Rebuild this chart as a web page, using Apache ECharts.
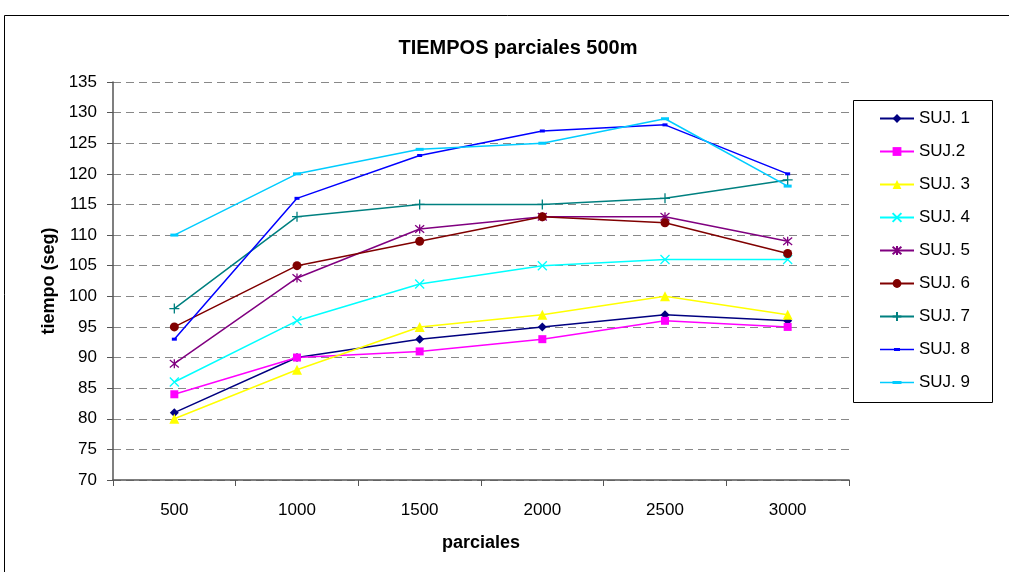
<!DOCTYPE html>
<html>
<head>
<meta charset="utf-8">
<script src="https://cdn.jsdelivr.net/npm/echarts@6/dist/echarts.min.js"></script>
<style>html,body{margin:0;padding:0;background:#fff}#c{width:1009px;height:572px}</style>
</head>
<body>
<div id="c"></div>
<script>
var categories = ['500', '1000', '1500', '2000', '2500', '3000'];
var seriesNames = ['SUJ. 1', 'SUJ.2', 'SUJ. 3', 'SUJ. 4', 'SUJ. 5', 'SUJ. 6', 'SUJ. 7', 'SUJ. 8', 'SUJ. 9'];
var suj1 = [81, 90, 93, 95, 97, 96];
var suj2 = [84, 90, 91, 93, 96, 95];
var suj3 = [80, 88, 95, 97, 100, 97];
var suj4 = [86, 96, 102, 105, 106, 106];
var suj5 = [89, 103, 111, 113, 113, 109];
var suj6 = [95, 105, 109, 113, 112, 107];
var suj7 = [98, 113, 115, 115, 116, 119];
var suj8 = [93, 116, 123, 127, 128, 120];
var suj9 = [110, 120, 124, 125, 129, 118];
var allData = [suj1, suj2, suj3, suj4, suj5, suj6, suj7, suj8, suj9];

var colors = ['#000080', '#FF00FF', '#FFFF00', '#00FFFF', '#800080', '#800000', '#008080', '#0000FF', '#00CCFF'];
var symbols = [
  'diamond', 'rect', 'triangle',
  'path://M0,0L10,10M10,0L0,10',
  'path://M0,0L10,10M10,0L0,10M5,-1L5,11',
  'circle',
  'path://M5,0L5,10M0,5L10,5',
  'path://M0,0L5,0L5,3L0,3Z',
  'path://M0,0L8,0L8,3L0,3Z'
];
var sizes = [9, 8, 10, 9, 9, 9, 10, 5, 8];
var keepAspect = [false, false, false, false, false, false, false, true, true];
var legendIcons = {
  'SUJ. 8': 'path://M0,0M34,11M0,4.8L34,4.8L34,6.2L0,6.2ZM14,4L20,4L20,7L14,7Z',
  'SUJ. 9': 'path://M0,0M34,11M0,4.8L34,4.8L34,6.2L0,6.2ZM12.5,4L21.5,4L21.5,7L12.5,7Z'
};

var series = allData.map(function (d, i) {
  return {
    name: seriesNames[i],
    type: 'line',
    data: d,
    symbol: symbols[i],
    symbolSize: sizes[i],
    symbolKeepAspect: keepAspect[i],
    showAllSymbol: true,
    lineStyle: { color: colors[i], width: 1.5 },
    itemStyle: { color: colors[i], borderColor: colors[i], borderWidth: (i === 3 || i === 4 || i === 6) ? 1.3 : 0 },
    emphasis: { disabled: true },
    animation: false
  };
});

var legendData = seriesNames.map(function (n) {
  return legendIcons[n] ? { name: n, icon: legendIcons[n] } : { name: n };
});

var FONT = 'Liberation Sans, Arial';
var chart = echarts.init(document.getElementById('c'));
chart.setOption({
  animation: false,
  backgroundColor: '#fff',
  title: {
    text: 'TIEMPOS parciales 500m',
    left: 513, top: 33, textAlign: 'center',
    textStyle: { fontFamily: FONT, fontSize: 20, fontWeight: 'bold', color: '#000' }
  },
  graphic: [
    { type: 'rect', shape: { x: 4.5, y: 15.5, width: 1010, height: 600 }, style: { fill: 'none', stroke: '#000', lineWidth: 1 }, silent: true, z: -1 },
    { type: 'rect', shape: { x: 853.5, y: 100.5, width: 139, height: 302 }, style: { fill: '#fff', stroke: '#000', lineWidth: 1 }, silent: true, z: -1 }
  ],
  legend: {
    orient: 'vertical',
    left: 879, top: 110,
    itemWidth: 34, itemHeight: 11,
    itemGap: 16,
    padding: 0,
    textStyle: { fontFamily: FONT, fontSize: 17, color: '#000' },
    data: legendData
  },
  grid: { left: 113, right: 160, top: 82, bottom: 92 },
  xAxis: {
    type: 'category',
    data: categories,
    boundaryGap: true,
    name: 'parciales',
    nameLocation: 'middle',
    nameGap: 54,
    nameTextStyle: { fontFamily: FONT, fontSize: 18, fontWeight: 'bold', color: '#000' },
    axisLine: { lineStyle: { color: '#555', width: 1.5 } },
    axisTick: { show: true, length: 6, lineStyle: { color: '#555' } },
    axisLabel: { fontFamily: FONT, fontSize: 17, color: '#000', margin: 22 },
    splitLine: { show: false }
  },
  yAxis: {
    type: 'value',
    min: 70, max: 135, interval: 5,
    name: 'tiempo (seg)',
    nameLocation: 'middle',
    nameRotate: 90,
    nameGap: 55,
    nameTextStyle: { fontFamily: FONT, fontSize: 18, fontWeight: 'bold', color: '#000' },
    axisLine: { show: true, lineStyle: { color: '#555', width: 1.5 } },
    axisTick: { show: true, length: 6, lineStyle: { color: '#555' } },
    axisLabel: { fontFamily: FONT, fontSize: 17, color: '#000', margin: 16 },
    splitLine: { show: true, lineStyle: { color: '#888', type: [8, 5], width: 1 } }
  },
  series: series
});
</script>
</body>
</html>
